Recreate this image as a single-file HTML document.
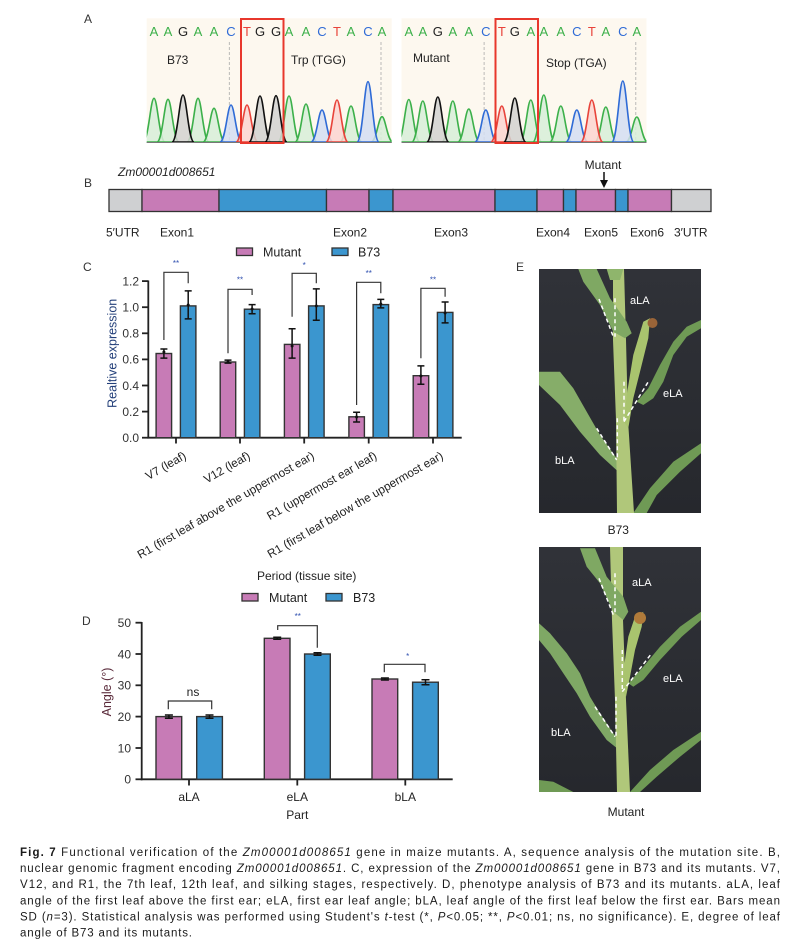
<!DOCTYPE html>
<html><head><meta charset="utf-8"><style>
html,body{margin:0;padding:0;background:#fff}
svg{display:block;font-family:"Liberation Sans",Arial,sans-serif}
</style></head><body>
<svg width="802" height="951" viewBox="0 0 802 951" xmlns="http://www.w3.org/2000/svg">
<defs>
<path id="pk" d="M-11,0 C-5.5,0 -3.5,-1 0,-1 C3.5,-1 5.5,0 11,0 Z" vector-effect="non-scaling-stroke"/>
<linearGradient id="bg" x1="0" y1="0" x2="0" y2="1"><stop offset="0" stop-color="#303238"/><stop offset="1" stop-color="#26282d"/></linearGradient>
</defs>
<rect width="802" height="951" fill="#fff"/>

<!-- ===== Panel A ===== -->
<text x="84" y="23" font-size="12" fill="#333">A</text>
<rect x="146.7" y="18.3" width="245" height="124.7" fill="#fdf8ef"/>
<rect x="401.5" y="18.3" width="245" height="124.7" fill="#fdf8ef"/>
<g font-size="13" text-anchor="middle">
<text x="154" y="36" fill="#3cb04a">A</text><text x="168" y="36" fill="#3cb04a">A</text><text x="183" y="36" fill="#222">G</text><text x="198" y="36" fill="#3cb04a">A</text><text x="214" y="36" fill="#3cb04a">A</text><text x="231" y="36" fill="#2f6bd6">C</text><text x="247" y="36" fill="#e8433a">T</text><text x="260" y="36" fill="#222">G</text><text x="276" y="36" fill="#222">G</text><text x="289" y="36" fill="#3cb04a">A</text><text x="306" y="36" fill="#3cb04a">A</text><text x="322" y="36" fill="#2f6bd6">C</text><text x="337" y="36" fill="#e8433a">T</text><text x="351" y="36" fill="#3cb04a">A</text><text x="368" y="36" fill="#2f6bd6">C</text><text x="382" y="36" fill="#3cb04a">A</text>
<text x="408.8" y="36" fill="#3cb04a">A</text><text x="422.8" y="36" fill="#3cb04a">A</text><text x="437.8" y="36" fill="#222">G</text><text x="452.8" y="36" fill="#3cb04a">A</text><text x="468.8" y="36" fill="#3cb04a">A</text><text x="485.8" y="36" fill="#2f6bd6">C</text><text x="501.8" y="36" fill="#e8433a">T</text><text x="514.8" y="36" fill="#222">G</text><text x="530.8" y="36" fill="#3cb04a">A</text><text x="543.8" y="36" fill="#3cb04a">A</text><text x="560.8" y="36" fill="#3cb04a">A</text><text x="576.8" y="36" fill="#2f6bd6">C</text><text x="591.8" y="36" fill="#e8433a">T</text><text x="605.8" y="36" fill="#3cb04a">A</text><text x="622.8" y="36" fill="#2f6bd6">C</text><text x="636.8" y="36" fill="#3cb04a">A</text>
</g>
<g stroke="#aaa" stroke-width="0.8" stroke-dasharray="3,2">
<line x1="229.3" y1="42" x2="229.3" y2="142"/><line x1="381" y1="42" x2="381" y2="142"/>
<line x1="484.1" y1="42" x2="484.1" y2="142"/><line x1="635.8" y1="42" x2="635.8" y2="142"/>
</g>
<g font-size="12" fill="#222">
<text x="167" y="64">B73</text><text x="291" y="64">Trp (TGG)</text>
<text x="413" y="62">Mutant</text><text x="546" y="67">Stop (TGA)</text>
</g>
<g stroke-width="1.6">
<g fill="#d7efd8" stroke="#3cb04a" fill-opacity="0.85">
<use href="#pk" transform="translate(154,142) scale(1,43.7)"/><use href="#pk" transform="translate(168,142) scale(1,42.7)"/><use href="#pk" transform="translate(198,142) scale(1,43.7)"/><use href="#pk" transform="translate(214,142) scale(1,33.7)"/><use href="#pk" transform="translate(289,142) scale(1,46)"/><use href="#pk" transform="translate(306,142) scale(1,38)"/><use href="#pk" transform="translate(351,142) scale(1,36)"/><use href="#pk" transform="translate(382,142) scale(1,25.3)"/>
<use href="#pk" transform="translate(408.8,142) scale(1,42.5)"/><use href="#pk" transform="translate(422.8,142) scale(1,41)"/><use href="#pk" transform="translate(452.8,142) scale(1,41)"/><use href="#pk" transform="translate(468.8,142) scale(1,33)"/><use href="#pk" transform="translate(530.8,142) scale(1,42)"/><use href="#pk" transform="translate(543.8,142) scale(1,47)"/><use href="#pk" transform="translate(560.8,142) scale(1,36)"/><use href="#pk" transform="translate(605.8,142) scale(1,35)"/><use href="#pk" transform="translate(636.8,142) scale(1,25)"/>
</g>
<g fill="#d3def2" stroke="#2f6bd6" fill-opacity="0.85">
<use href="#pk" transform="translate(231,142) scale(1,37)"/><use href="#pk" transform="translate(322,142) scale(1,32)"/><use href="#pk" transform="translate(368,142) scale(1,60.3)"/>
<use href="#pk" transform="translate(485.8,142) scale(1,32)"/><use href="#pk" transform="translate(576.8,142) scale(1,32)"/><use href="#pk" transform="translate(622.8,142) scale(1,61)"/>
</g>
<g fill="#fbd5d0" stroke="#e8433a" fill-opacity="0.85">
<use href="#pk" transform="translate(247,142) scale(1,37)"/><use href="#pk" transform="translate(337,142) scale(1,42)"/>
<use href="#pk" transform="translate(501.8,142) scale(1,36)"/><use href="#pk" transform="translate(591.8,142) scale(1,42)"/>
</g>
<g fill="#d2d2d0" stroke="#111" fill-opacity="0.85">
<use href="#pk" transform="translate(183,142) scale(1,47)"/><use href="#pk" transform="translate(260,142) scale(1,46)"/><use href="#pk" transform="translate(276,142) scale(1,46.3)"/>
<use href="#pk" transform="translate(437.8,142) scale(1,45)"/><use href="#pk" transform="translate(514.8,142) scale(1,44)"/>
</g>
</g>
<rect x="140" y="120" width="6.7" height="25" fill="#fff"/>
<rect x="391.7" y="120" width="9.8" height="25" fill="#fff"/>
<rect x="646.5" y="120" width="8" height="25" fill="#fff"/>
<line x1="146.7" y1="142.5" x2="391.7" y2="142.5" stroke="#777" stroke-width="1"/>
<line x1="401.5" y1="142.5" x2="646.5" y2="142.5" stroke="#777" stroke-width="1"/>
<rect x="241" y="19" width="42.5" height="124" fill="none" stroke="#e8372c" stroke-width="2"/>
<rect x="495.5" y="19" width="42.5" height="124" fill="none" stroke="#e8372c" stroke-width="2"/>

<!-- ===== Panel B ===== -->
<text x="84" y="187" font-size="12" fill="#333">B</text>
<text x="118" y="176" font-size="12" font-style="italic" fill="#222">Zm00001d008651</text>
<text x="603" y="169" font-size="12" fill="#222" text-anchor="middle">Mutant</text>
<line x1="604" y1="172" x2="604" y2="181" stroke="#111" stroke-width="1.5"/>
<polygon points="600,180 608,180 604,188" fill="#111"/>
<g stroke="#333" stroke-width="1.3">
<rect x="109" y="189.5" width="33" height="22" fill="#cfd0d2"/>
<rect x="142" y="189.5" width="77" height="22" fill="#c77bb6"/>
<rect x="219" y="189.5" width="107.5" height="22" fill="#3b96cf"/>
<rect x="326.5" y="189.5" width="42.5" height="22" fill="#c77bb6"/>
<rect x="369" y="189.5" width="24" height="22" fill="#3b96cf"/>
<rect x="393" y="189.5" width="102" height="22" fill="#c77bb6"/>
<rect x="495" y="189.5" width="42" height="22" fill="#3b96cf"/>
<rect x="537" y="189.5" width="26.5" height="22" fill="#c77bb6"/>
<rect x="563.5" y="189.5" width="12.5" height="22" fill="#3b96cf"/>
<rect x="576" y="189.5" width="39.5" height="22" fill="#c77bb6"/>
<rect x="615.5" y="189.5" width="12.5" height="22" fill="#3b96cf"/>
<rect x="628" y="189.5" width="43.5" height="22" fill="#c77bb6"/>
<rect x="671.5" y="189.5" width="39.5" height="22" fill="#cfd0d2"/>
</g>
<g font-size="12" fill="#222">
<text x="106" y="236.5">5′UTR</text><text x="160" y="236.5">Exon1</text><text x="333" y="236.5">Exon2</text><text x="434" y="236.5">Exon3</text><text x="536" y="236.5">Exon4</text><text x="584" y="236.5">Exon5</text><text x="630" y="236.5">Exon6</text><text x="674" y="236.5">3′UTR</text>
</g>

<!-- ===== Panel C ===== -->
<text x="83" y="271" font-size="12" fill="#333">C</text>
<rect x="236.5" y="248" width="16" height="7.5" fill="#c77bb6" stroke="#333" stroke-width="1.3"/>
<text x="263" y="256.5" font-size="12.5" fill="#222">Mutant</text>
<rect x="332" y="248" width="16" height="7.5" fill="#3b96cf" stroke="#333" stroke-width="1.3"/>
<text x="358" y="256.5" font-size="12.5" fill="#222">B73</text>

<text transform="translate(116.5,353.3) rotate(-90)" font-size="12.5" fill="#24407a" text-anchor="middle">Realtive expression</text>
<g font-size="12" fill="#333" text-anchor="end">
<text x="139" y="442">0.0</text><text x="139" y="415.9">0.2</text><text x="139" y="389.8">0.4</text><text x="139" y="363.7">0.6</text><text x="139" y="337.6">0.8</text><text x="139" y="311.5">1.0</text><text x="139" y="285.4">1.2</text>
</g>
<g stroke="#222" stroke-width="1.8">
<line x1="148.3" y1="280.5" x2="148.3" y2="438.5"/>
<line x1="147.4" y1="437.7" x2="461.7" y2="437.7"/>
<line x1="142" y1="437.7" x2="148.3" y2="437.7"/><line x1="142" y1="411.6" x2="148.3" y2="411.6"/><line x1="142" y1="385.5" x2="148.3" y2="385.5"/><line x1="142" y1="359.4" x2="148.3" y2="359.4"/><line x1="142" y1="333.3" x2="148.3" y2="333.3"/><line x1="142" y1="307.2" x2="148.3" y2="307.2"/><line x1="142" y1="281.1" x2="148.3" y2="281.1"/>
<line x1="176" y1="437.7" x2="176" y2="443.5"/><line x1="240" y1="437.7" x2="240" y2="443.5"/><line x1="304.2" y1="437.7" x2="304.2" y2="443.5"/><line x1="368.7" y1="437.7" x2="368.7" y2="443.5"/><line x1="433" y1="437.7" x2="433" y2="443.5"/>
</g>
<g stroke="#333" stroke-width="1.4">
<rect x="156.1" y="353.5" width="15.5" height="84.2" fill="#c77bb6"/>
<rect x="180.4" y="305.9" width="15.5" height="131.8" fill="#3b96cf"/>
<rect x="220.2" y="362" width="15.5" height="75.7" fill="#c77bb6"/>
<rect x="244.4" y="309.2" width="15.5" height="128.5" fill="#3b96cf"/>
<rect x="284.4" y="344.4" width="15.5" height="93.3" fill="#c77bb6"/>
<rect x="308.6" y="305.9" width="15.5" height="131.8" fill="#3b96cf"/>
<rect x="348.9" y="416.8" width="15.5" height="20.9" fill="#c77bb6"/>
<rect x="373.1" y="304.6" width="15.5" height="133.1" fill="#3b96cf"/>
<rect x="413.2" y="375.7" width="15.5" height="62" fill="#c77bb6"/>
<rect x="437.4" y="312.4" width="15.5" height="125.3" fill="#3b96cf"/>
</g>
<g stroke="#111" stroke-width="1.5" fill="none">
<path d="M163.9,358.1V349 M160.4,358.1H167.4 M160.4,349H167.4"/>
<path d="M188.2,318.9V290.9 M184.7,318.9H191.7 M184.7,290.9H191.7"/>
<path d="M228,363.1V360.1 M224.5,363.1H231.5 M224.5,360.1H231.5"/>
<path d="M252.1,313.7V304.6 M248.6,313.7H255.6 M248.6,304.6H255.6"/>
<path d="M292.1,358.1V328.7 M288.6,358.1H295.6 M288.6,328.7H295.6"/>
<path d="M316.3,320.3V288.9 M312.8,320.3H319.8 M312.8,288.9H319.8"/>
<path d="M356.6,422V412.3 M353.1,422H360.1 M353.1,412.3H360.1"/>
<path d="M380.8,307.9V299.4 M377.3,307.9H384.3 M377.3,299.4H384.3"/>
<path d="M420.9,384.2V365.9 M417.4,384.2H424.4 M417.4,365.9H424.4"/>
<path d="M445.1,322.9V302 M441.6,322.9H448.6 M441.6,302H448.6"/>
</g>
<g fill="#111">
<circle cx="163.9" cy="352" r="1.5"/><circle cx="188.2" cy="305" r="1.5"/><circle cx="228" cy="362" r="1.5"/><circle cx="252.1" cy="309" r="1.5"/><circle cx="292.1" cy="346" r="1.5"/><circle cx="316.3" cy="306" r="1.5"/><circle cx="356.6" cy="417" r="1.5"/><circle cx="380.8" cy="304" r="1.5"/><circle cx="420.9" cy="376" r="1.5"/><circle cx="445.1" cy="313" r="1.5"/>
</g>
<g stroke="#333" stroke-width="1.2" fill="none">
<path d="M163.9,340V272.3H188.2V283.3"/>
<path d="M228,353.3V289.3H252.1V295"/>
<path d="M292.1,316.7V273.3H316.3V283.3"/>
<path d="M356.6,405V282.3H380.8V293.3"/>
<path d="M420.9,358.3V288.3H445.1V296.7"/>
</g>
<g font-size="8" fill="#3050b0" text-anchor="middle">
<text x="176" y="266">**</text><text x="240" y="282.5">**</text><text x="304.2" y="268">*</text><text x="368.7" y="276">**</text><text x="433" y="282.5">**</text>
</g>
<g font-size="11.8" fill="#222" text-anchor="end">
<text transform="translate(187,458) rotate(-30)">V7 (leaf)</text>
<text transform="translate(251,458) rotate(-30)">V12 (leaf)</text>
<text transform="translate(315.2,458) rotate(-30)">R1 (first leaf above the uppermost ear)</text>
<text transform="translate(377.7,458) rotate(-30)">R1 (uppermost ear leaf)</text>
<text transform="translate(444,458) rotate(-30)">R1 (first leaf below the uppermost ear)</text>
</g>
<text x="306.7" y="580" font-size="12" fill="#222" text-anchor="middle">Period (tissue site)</text>

<!-- ===== Panel D ===== -->
<rect x="242" y="593.5" width="16" height="7.5" fill="#c77bb6" stroke="#333" stroke-width="1.3"/>
<text x="269" y="602" font-size="12.5" fill="#222">Mutant</text>
<rect x="326" y="593.5" width="16" height="7.5" fill="#3b96cf" stroke="#333" stroke-width="1.3"/>
<text x="353" y="602" font-size="12.5" fill="#222">B73</text>
<text x="82" y="625" font-size="12" fill="#333">D</text>
<text transform="translate(111,692) rotate(-90)" font-size="12.5" fill="#5a2a3a" text-anchor="middle">Angle (°)</text>
<g font-size="12" fill="#333" text-anchor="end">
<text x="131" y="783.6">0</text><text x="131" y="752.3">10</text><text x="131" y="721">20</text><text x="131" y="689.6">30</text><text x="131" y="658.3">40</text><text x="131" y="627">50</text>
</g>
<g stroke="#222" stroke-width="1.8">
<line x1="141.7" y1="622" x2="141.7" y2="780.2"/>
<line x1="140.8" y1="779.3" x2="452.7" y2="779.3"/>
<line x1="135.5" y1="779.3" x2="141.7" y2="779.3"/><line x1="135.5" y1="748" x2="141.7" y2="748"/><line x1="135.5" y1="716.6" x2="141.7" y2="716.6"/><line x1="135.5" y1="685.3" x2="141.7" y2="685.3"/><line x1="135.5" y1="654" x2="141.7" y2="654"/><line x1="135.5" y1="622.7" x2="141.7" y2="622.7"/>
<line x1="189" y1="779.3" x2="189" y2="785.5"/><line x1="297.3" y1="779.3" x2="297.3" y2="785.5"/><line x1="405.3" y1="779.3" x2="405.3" y2="785.5"/>
</g>
<g stroke="#333" stroke-width="1.4">
<rect x="156" y="716.6" width="25.7" height="62.7" fill="#c77bb6"/>
<rect x="196.7" y="716.6" width="25.7" height="62.7" fill="#3b96cf"/>
<rect x="264.3" y="638.3" width="25.7" height="141" fill="#c77bb6"/>
<rect x="304.6" y="654" width="25.7" height="125.3" fill="#3b96cf"/>
<rect x="372" y="679" width="25.7" height="100.3" fill="#c77bb6"/>
<rect x="412.6" y="682.2" width="25.7" height="97.1" fill="#3b96cf"/>
</g>
<g stroke="#111" stroke-width="1.5" fill="none">
<path d="M164.9,715H172.9 M168.9,715V718.2 M164.9,718.2H172.9"/>
<path d="M205.5,715H213.5 M209.5,715V718.2 M205.5,718.2H213.5"/>
<path d="M273.2,637.3H281.2 M277.2,637.3V639.3 M273.2,639.3H281.2"/>
<path d="M313.5,652.7H321.5 M317.5,652.7V655.3 M313.5,655.3H321.5"/>
<path d="M380.9,678H388.9 M384.9,678V680 M380.9,680H388.9"/>
<path d="M421.5,679.7H429.5 M425.5,679.7V684.7 M421.5,684.7H429.5"/>
</g>
<g stroke="#333" stroke-width="1.2" fill="none">
<path d="M168.3,709.3V701H211.7V709.3"/>
<path d="M277.7,630V625.7H317.3V647.7"/>
<path d="M384.3,672.3V664.3H425V672.3"/>
</g>
<text x="193" y="696" font-size="12" fill="#222" text-anchor="middle">ns</text>
<text x="297.7" y="619" font-size="8" fill="#3050b0" text-anchor="middle">**</text>
<text x="407.7" y="659" font-size="8" fill="#3050b0" text-anchor="middle">*</text>
<g font-size="12" fill="#222" text-anchor="middle">
<text x="189" y="801">aLA</text><text x="297.3" y="801">eLA</text><text x="405.3" y="801">bLA</text>
</g>
<text x="297.3" y="819" font-size="12" fill="#222" text-anchor="middle">Part</text>

<!-- ===== Panel E ===== -->
<text x="516" y="271" font-size="12" fill="#333">E</text>
<g>
<rect x="539" y="269" width="162" height="244" fill="url(#bg)"/>
<polygon points="539,371.7 560,371.7 573.3,388.3 586.7,411.7 600,435 616.7,458.3 630,471.7 620,473.3 600,455 580,431.7 560,405 539,385" fill="#86ad69"/>
<polygon points="633.3,513 650,488.3 673.3,461.7 701,443.3 701,453.3 680,471.7 656.7,495 646.7,513" fill="#6f9a55"/>
<polygon points="613,269 624,269 626,340 628,420 634,513 617,513 616,420 613,340" fill="#b0c77a"/>
<polygon points="636.7,401.7 648.3,388.3 660,365 673.3,341.7 686.7,326.7 701,320 701,328.3 686.7,336.7 673.3,355 663.3,381.7 653.3,398.3 643.3,405" fill="#6f9a55"/>
<polygon points="624,421.7 626.7,395 633.3,355 643.3,321.7 650,318.3 648.3,338.3 640,371.7 633.3,398.3 628.3,428.3" fill="#a9c46e"/>
<circle cx="652.5" cy="323" r="5" fill="#9a6438"/>
<polygon points="578.3,269 596.7,269 610,298.3 626.7,321.7 631.7,333.3 625,338.3 613.3,331.7 600,305 583.3,281.7" fill="#7fa863"/>
<polygon points="606.7,269 623.3,269 620,280 610,280" fill="#8fb56c"/>
<g stroke="#fff" stroke-width="1.5" stroke-dasharray="4,3" fill="none">
<line x1="599" y1="299" x2="613.3" y2="336.7"/><line x1="615" y1="298.3" x2="615" y2="336.7"/>
<line x1="624" y1="381.7" x2="624" y2="421.7"/><line x1="624" y1="421.7" x2="648.3" y2="381.7"/>
<line x1="617.3" y1="418.3" x2="617.3" y2="460"/><line x1="596.7" y1="428.3" x2="616.7" y2="460"/>
</g>
<g font-size="11" fill="#fff"><text x="630" y="304">aLA</text><text x="663" y="397">eLA</text><text x="555" y="464">bLA</text></g>
</g>
<text x="618.3" y="534" font-size="12" fill="#222" text-anchor="middle">B73</text>
<g>
<rect x="539" y="547" width="162" height="245" fill="url(#bg)"/>
<polygon points="539,623.3 550,633.3 566.7,653.3 580,673.3 590,696.7 600,713.3 613.3,733.3 628.3,750 623.3,753.3 606.7,740 590,716.7 576.7,693.3 563.3,673.3 550,653.3 539,640" fill="#7fa865"/>
<polygon points="630,792 650,770 673.3,750 701,731.7 701,740 680,756.7 656.7,776.7 640,792" fill="#6f9a55"/>
<polygon points="539,780 553.3,781.7 573.3,792 539,792" fill="#6f9a55"/>
<polygon points="610,547 623,547 623,620 626,700 630,792 617,792 615,700 612,620" fill="#b0c77a"/>
<polygon points="628.3,683.3 643.3,666.7 660,646.7 680,626.7 701,611.7 701,620 681.7,636.7 660,660 643.3,680 633.3,686.7" fill="#6f9a55"/>
<polygon points="621.7,690 624,666.7 628.3,636.7 635,616.7 643.3,611.7 641.7,626.7 635,650 630,676.7 626,696.7" fill="#a9c46e"/>
<circle cx="640" cy="618" r="6" fill="#b07a3a"/>
<polygon points="580,548.3 595,548.3 606.7,576.7 623.3,596.7 628.3,611.7 623.3,620 613.3,611.7 600,583.3 586.7,566.7" fill="#7fa863"/>
<g stroke="#fff" stroke-width="1.5" stroke-dasharray="4,3" fill="none">
<line x1="615" y1="573.3" x2="615" y2="615"/><line x1="599" y1="578.3" x2="613.3" y2="615"/>
<line x1="622.3" y1="650" x2="622.3" y2="691.7"/><line x1="622.3" y1="691.7" x2="651.7" y2="653.3"/>
<line x1="616" y1="696.7" x2="616" y2="736.7"/><line x1="595" y1="706.7" x2="615" y2="736.7"/>
</g>
<g font-size="11" fill="#fff"><text x="632" y="586">aLA</text><text x="663" y="682">eLA</text><text x="551" y="736">bLA</text></g>
</g>
<text x="626" y="816" font-size="12" fill="#222" text-anchor="middle">Mutant</text>

<!-- ===== Caption ===== -->
<g font-size="11.5" fill="#1a1a1a">
<text x="20" y="856" textLength="760" lengthAdjust="spacing"><tspan font-weight="bold">Fig. 7</tspan>  Functional verification of the <tspan font-style="italic">Zm00001d008651</tspan> gene in maize mutants.  A, sequence analysis of the mutation site.  B,</text>
<text x="20" y="872" textLength="760" lengthAdjust="spacing">nuclear genomic fragment encoding <tspan font-style="italic">Zm00001d008651</tspan>.  C, expression of the <tspan font-style="italic">Zm00001d008651</tspan> gene in B73 and its mutants.  V7,</text>
<text x="20" y="888" textLength="760" lengthAdjust="spacing">V12, and R1, the 7th leaf, 12th leaf, and silking stages, respectively.  D, phenotype analysis of B73 and its mutants.  aLA, leaf</text>
<text x="20" y="904.5" textLength="760" lengthAdjust="spacing">angle of the first leaf above the first ear; eLA, first ear leaf angle; bLA, leaf angle of the first leaf below the first ear.  Bars mean</text>
<text x="20" y="920.5" textLength="760" lengthAdjust="spacing">SD (<tspan font-style="italic">n</tspan>=3).  Statistical analysis was performed using Student's <tspan font-style="italic">t</tspan>-test (*, <tspan font-style="italic">P</tspan>&lt;0.05; **, <tspan font-style="italic">P</tspan>&lt;0.01; ns, no significance).  E, degree of leaf</text>
<text x="20" y="936.7" textLength="172" lengthAdjust="spacing">angle of B73 and its mutants.</text>
</g>
</svg>
</body></html>
